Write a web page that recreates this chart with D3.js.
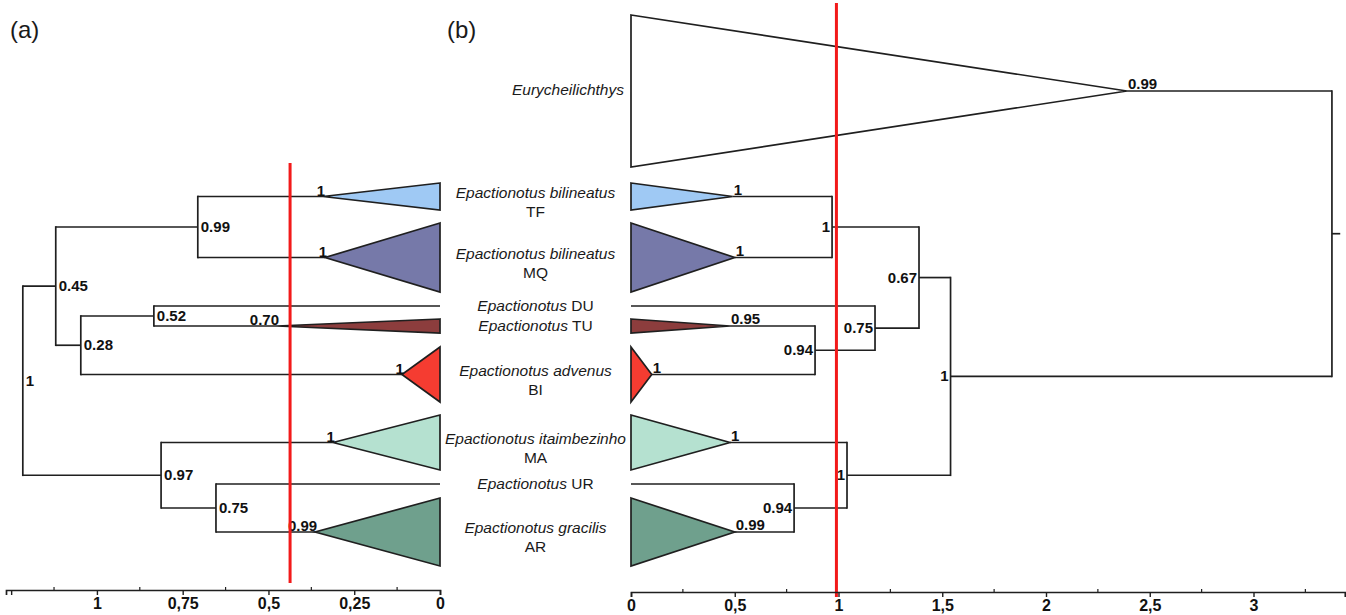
<!DOCTYPE html>
<html>
<head>
<meta charset="utf-8">
<script src="https://cdn.jsdelivr.net/npm/d3@7"></script>
<style>
  html, body { margin: 0; padding: 0; background: #fff; }
  svg { display: block; font-family: "Liberation Sans", Arial, Helvetica, sans-serif; }
</style>
</head>
<body>
<svg id="chart" width="1346" height="615"></svg>
<script>
// ---------------- DATA ----------------
// collapsed clades / lineages (shared by both panels)
const tipIds      = ["EU", "TF", "MQ", "DU", "TU", "BI", "MA", "UR", "AR"];
const tipGenus    = ["Eurycheilichthys", "Epactionotus", "Epactionotus", "Epactionotus", "Epactionotus", "Epactionotus", "Epactionotus", "Epactionotus", "Epactionotus"];
const tipSpecies  = ["", "bilineatus", "bilineatus", "", "", "advenus", "itaimbezinho", "", "gracilis"];
const tipCode     = ["", "TF", "MQ", "DU", "TU", "BI", "MA", "UR", "AR"];
const tipColors   = ["#ffffff", "#9fc9f4", "#7679a9", "none", "#8c3d3d", "#f53c31", "#b5e1d0", "none", "#6fa08d"];
// vertical extent of each clade in row units (top, bottom)
const tipTop      = [0.0, 16.8, 20.8, 29.1, 30.4, 33.2, 40.0, 46.9, 48.3];
const tipBottom   = [15.2, 19.5, 27.7, 29.1, 31.8, 38.7, 45.5, 46.9, 55.1];

// Panel (a) tree  (tips: TF MQ DU TU BI MA UR AR)
const treeANodes    = ["root", "n045", "n099", "n028", "n052", "n097", "n075"];
const treeAParents  = [null, "root", "n045", "n045", "n028", "root", "n097"];
const treeAHeights  = [1.216, 1.12, 0.706, 1.047, 0.834, 0.813, 0.653];
const treeASupport  = ["1", "0.45", "0.99", "0.28", "0.52", "0.97", "0.75"];
const treeATips        = ["TF", "MQ", "DU", "TU", "BI", "MA", "UR", "AR"];
const treeATipParents  = ["n099", "n099", "n052", "n052", "n028", "n097", "n075", "n075"];
const treeATipDepth    = [0.341, 0.335, 0, 0.475, 0.111, 0.312, 0, 0.364];
const treeATipSupport  = ["1", "1", "", "0.70", "1", "1", "", "0.99"];
const treeACut = 0.437;

// Panel (b) tree  (tips: EU TF MQ DU TU BI MA UR AR)
const treeBNodes    = ["root", "ing", "n067", "n1bil", "n075", "n094a", "n1ma", "n094b"];
const treeBParents  = [null, "root", "ing", "n067", "n067", "n075", "ing", "n1ma"];
const treeBHeights  = [3.378, 1.54, 1.388, 0.969, 1.176, 0.887, 1.041, 0.786];
const treeBSupport  = ["", "1", "0.67", "1", "0.75", "0.94", "1", "0.94"];
const treeBTips        = ["EU", "TF", "MQ", "DU", "TU", "BI", "MA", "UR", "AR"];
const treeBTipParents  = ["root", "n1bil", "n1bil", "n075", "n094a", "n094a", "n1ma", "n094b", "n094b"];
const treeBTipDepth    = [2.39, 0.49, 0.50, 0, 0.477, 0.10, 0.477, 0, 0.50];
const treeBTipSupport  = ["0.99", "1", "1", "", "0.95", "1", "1", "", "0.99"];
const treeBCut = 0.99;
const treeBRootStub = 0.04;

// axes
const axisAMajor = [1.25, 1, 0.75, 0.5, 0.25, 0];
const axisAMinor = [1.125, 0.875, 0.625, 0.375, 0.125];
const axisBMajor = [0, 0.5, 1, 1.5, 2, 2.5, 3];
const axisBMinor = [0.25, 0.75, 1.25, 1.75, 2.25, 2.75, 3.25];

// ---------------- DRAW ----------------
const svg = d3.select("#chart");
const ink = "#1f1f1f";
const fmt = d => d === 1.25 ? "" : String(d).replace(".", ",");

const y = d3.scaleLinear().domain([0, 55.1]).range([15, 566]);
const xa = d3.scaleLinear().domain([0, 1.265]).range([440, 6]);
const xb = d3.scaleLinear().domain([0, 3.44]).range([631, 1344.8]);

const tipInfo = {};
tipIds.forEach((id, i) => {
  tipInfo[id] = { top: tipTop[i], bottom: tipBottom[i], color: tipColors[i],
                  genus: tipGenus[i], species: tipSpecies[i], code: tipCode[i] };
});

function buildTree(nodes, parents, heights, support, tips, tipParents, tipDepth, tipSupport) {
  const rows = nodes.map((id, i) => ({ id, parent: parents[i], h: heights[i], s: support[i], tip: false }));
  tips.forEach((id, i) => rows.push({ id, parent: tipParents[i], h: tipDepth[i], s: tipSupport[i], tip: true }));
  const root = d3.stratify().id(d => d.id).parentId(d => d.parent)(rows);
  root.eachAfter(n => {
    if (n.data.tip) {
      const t = tipInfo[n.data.id];
      n.yu = (t.top + t.bottom) / 2;
    } else {
      const ys = n.children.map(c => c.yu);
      n.yu = (d3.min(ys) + d3.max(ys)) / 2;
    }
  });
  return root;
}

function drawTree(root, x, side) {
  const g = svg.append("g");
  // clade triangles
  root.leaves().forEach(l => {
    const t = tipInfo[l.data.id];
    if (t.top !== t.bottom) {
      g.append("path")
        .attr("d", d3.line()([[x(0), y(t.top)], [x(l.data.h), y(l.yu)], [x(0), y(t.bottom)]]) + "Z")
        .attr("fill", t.color).attr("stroke", ink).attr("stroke-width", 1.7)
        .attr("stroke-linejoin", "miter");
    }
  });
  // branches
  root.descendants().filter(n => n.children).forEach(n => {
    const ys = n.children.map(c => c.yu);
    g.append("line")
      .attr("x1", x(n.data.h)).attr("x2", x(n.data.h))
      .attr("y1", y(d3.min(ys))).attr("y2", y(d3.max(ys)))
      .attr("stroke", ink).attr("stroke-width", 1.7).attr("stroke-linecap", "square");
    n.children.forEach(c => {
      g.append("line")
        .attr("x1", x(n.data.h)).attr("x2", x(c.data.h))
        .attr("y1", y(c.yu)).attr("y2", y(c.yu))
        .attr("stroke", ink).attr("stroke-width", 1.7);
    });
  });
  // support values
  root.descendants().forEach(n => {
    if (!n.data.s) return;
    const txt = g.append("text").text(n.data.s)
      .attr("font-size", 15).attr("font-weight", "bold").attr("fill", "#111");
    if (n.data.tip) {
      if (side === "a") txt.attr("x", x(n.data.h) + 2).attr("y", y(n.yu) - 1).attr("text-anchor", "end");
      else txt.attr("x", x(n.data.h) + 1).attr("y", y(n.yu) - 2).attr("text-anchor", "start");
    } else {
      if (side === "a") txt.attr("x", x(n.data.h) + 3).attr("y", y(n.yu) + 5).attr("text-anchor", "start");
      else txt.attr("x", x(n.data.h) - 2).attr("y", y(n.yu) + 5).attr("text-anchor", "end");
    }
  });
  return g;
}

const treeA = buildTree(treeANodes, treeAParents, treeAHeights, treeASupport, treeATips, treeATipParents, treeATipDepth, treeATipSupport);
const treeB = buildTree(treeBNodes, treeBParents, treeBHeights, treeBSupport, treeBTips, treeBTipParents, treeBTipDepth, treeBTipSupport);
drawTree(treeA, xa, "a");
drawTree(treeB, xb, "b");

// root stub (b)
svg.append("line")
  .attr("x1", xb(treeB.data.h)).attr("x2", xb(treeB.data.h + treeBRootStub))
  .attr("y1", y(treeB.yu)).attr("y2", y(treeB.yu))
  .attr("stroke", ink).attr("stroke-width", 1.7);

// taxon labels
const labelX = (xa(0) + xb(0)) / 2;
const fs = 15.5;
tipIds.forEach(id => {
  const t = tipInfo[id];
  const mid = y((t.top + t.bottom) / 2);
  if (id === "EU") {
    svg.append("text").attr("x", xb(0) - 7).attr("y", mid + 4)
      .attr("text-anchor", "end").attr("font-size", fs).attr("font-style", "italic")
      .attr("fill", "#1a1a1a").text(t.genus);
    return;
  }
  if (t.species) {
    svg.append("text").attr("x", labelX).attr("y", mid + 1)
      .attr("text-anchor", "middle").attr("font-size", fs).attr("font-style", "italic")
      .attr("fill", "#1a1a1a").text(t.genus + " " + t.species);
    svg.append("text").attr("x", labelX).attr("y", mid + 20)
      .attr("text-anchor", "middle").attr("font-size", fs).attr("fill", "#1a1a1a").text(t.code);
  } else {
    const tx = svg.append("text").attr("x", labelX).attr("y", mid + 5)
      .attr("text-anchor", "middle").attr("font-size", fs).attr("fill", "#1a1a1a");
    tx.append("tspan").attr("font-style", "italic").text(t.genus);
    tx.append("tspan").text(" " + t.code);
  }
});

// cut lines
svg.append("line").attr("x1", xa(treeACut)).attr("x2", xa(treeACut))
  .attr("y1", 163).attr("y2", 583).attr("stroke", "#f21a1a").attr("stroke-width", 3);
svg.append("line").attr("x1", xb(treeBCut)).attr("x2", xb(treeBCut))
  .attr("y1", 3).attr("y2", 597).attr("stroke", "#f21a1a").attr("stroke-width", 3);

// axes
function drawAxis(x, major, minor, yPos) {
  const ax = svg.append("g").attr("transform", `translate(0,${yPos})`)
    .call(d3.axisBottom(x).tickValues(major).tickFormat(fmt).tickSizeOuter(0).tickSize(5).tickPadding(3));
  ax.select(".domain").attr("stroke", ink).attr("stroke-width", 1.7);
  ax.selectAll(".tick line").attr("stroke", ink).attr("stroke-width", 1.4);
  ax.selectAll(".tick text").attr("font-size", 16).attr("font-weight", "bold")
    .attr("fill", "#111").attr("font-family", "'Liberation Sans', Arial, sans-serif");
  ax.selectAll(".minor").data(minor).enter().append("line").attr("class", "minor")
    .attr("x1", d => x(d)).attr("x2", d => x(d)).attr("y1", 0).attr("y2", -3)
    .attr("stroke", ink).attr("stroke-width", 1.2);
}
drawAxis(xa, axisAMajor, axisAMinor, 590);
drawAxis(xb, axisBMajor, axisBMinor, 592);

// panel letters
svg.append("text").attr("x", 10).attr("y", 38).attr("font-size", 24).attr("fill", "#1a1a1a").text("(a)");
svg.append("text").attr("x", 447).attr("y", 38).attr("font-size", 24).attr("fill", "#1a1a1a").text("(b)");
</script>
</body>
</html>
